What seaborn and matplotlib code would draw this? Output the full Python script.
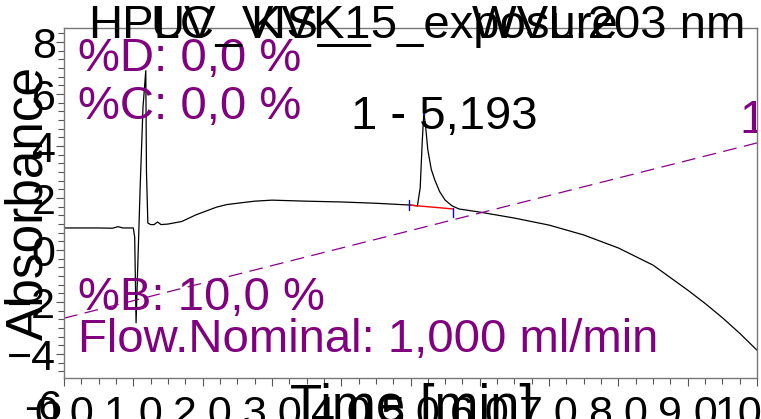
import numpy as np
import pandas as pd
import matplotlib
matplotlib.use("Agg")
import matplotlib.pyplot as plt
import matplotlib.transforms as mtransforms
from matplotlib.ticker import MultipleLocator
import seaborn as sns

sns.set_style("ticks")
plt.rcParams['font.family'] = ['Liberation Sans', 'DejaVu Sans']
plt.rcParams.update({"text.color": "black", "xtick.labelcolor": "black",
                     "ytick.labelcolor": "black"})

# chromatogram trace (time in min, absorbance)
time_min = [0.0, 0.5, 0.7, 0.78, 0.85, 1.0, 1.02, 1.04, 1.06, 1.10, 1.14, 1.18, 1.19, 1.21,
            1.25, 1.30, 1.35, 1.40, 1.50, 1.70, 1.90, 2.05, 2.20, 2.35, 2.50, 2.75, 3.0, 3.5,
            4.0, 4.5, 5.0, 5.10, 5.14, 5.17, 5.193, 5.22, 5.25, 5.30, 5.35, 5.42, 5.50, 5.60,
            5.70, 6.0, 6.5, 7.0, 7.5, 8.0, 8.5, 9.0, 9.25, 9.5, 9.75, 10.0]
absorb = [0.85, 0.85, 0.84, 0.90, 0.85, 0.85, 0.5, -2.8, -1.0, 2.5, 5.5, 6.9, 3.0, 1.04,
          0.98, 0.98, 1.08, 0.98, 1.00, 1.10, 1.35, 1.50, 1.65, 1.75, 1.80, 1.88, 1.92, 1.88,
          1.85, 1.80, 1.73, 1.70, 2.4, 4.2, 5.3, 4.7, 3.85, 3.1, 2.7, 2.25, 1.92, 1.70,
          1.58, 1.46, 1.23, 0.96, 0.58, 0.08, -0.58, -1.54, -2.05, -2.6, -3.2, -3.85]

# gradient %B line (drawn on absorbance scale)
grad_time = [0.0, 10.0]
grad_level = [-2.62, 4.12]

# integration baseline of peak 1
base_time = [4.98, 5.62]
base_level = [1.73, 1.58]
peak_rt = 5.193

x_ticks = np.arange(0, 11, 1)
x_labels = [f"{v},0" for v in x_ticks]
y_ticks = [-4, -2, 0, 2, 4, 6, 8]

df = pd.DataFrame({"t": time_min, "a": absorb})

fig = plt.figure(figsize=(7.61, 4.19), dpi=100)
ax = fig.add_axes([64 / 761, 41 / 419, 693 / 761, 350 / 419])

sns.lineplot(data=df, x="t", y="a", ax=ax, color="black", linewidth=0.9, sort=False,
             estimator=None)
ax.plot(grad_time, grad_level, color="#8b008b", linestyle=(0, (11, 6)), linewidth=0.9)
ax.plot(base_time, base_level, color="red", linewidth=1.0)
ax.plot([base_time[0], base_time[0]], [base_level[0] - 0.2, base_level[0] + 0.2], color="blue", lw=1)
ax.plot([base_time[1], base_time[1]], [base_level[1] - 0.3, base_level[1] + 0.05], color="blue", lw=1)
ax.plot([peak_rt, peak_rt], [5.2, 5.4], color="blue", lw=1)

ax.set_xlim(0, 10)
ax.set_ylim(-4.92, 8.54)
ax.set_xlabel("")
ax.set_ylabel("")
ax.set_xticks(x_ticks)
ax.set_xticklabels(x_labels)
ax.set_yticks(y_ticks)
ax.xaxis.set_minor_locator(MultipleLocator(0.25))
ax.yaxis.set_minor_locator(MultipleLocator(1 / 3))
ax.tick_params(axis="both", which="major", labelsize=31, length=6, width=0.8, color="#555555")
ax.tick_params(axis="x", which="major", pad=6)
ax.tick_params(axis="y", which="major", pad=0)
ax.tick_params(axis="both", which="minor", length=4, width=0.8, color="#555555")
for s in ax.spines.values():
    s.set_color("#777777")
    s.set_linewidth(1.0)

purple = "#800080"
fs = 34
ax.text(0.2, 8.2, "%D: 0,0 %", color=purple, fontsize=fs, va="top", ha="left")
ax.text(0.2, 6.35, "%C: 0,0 %", color=purple, fontsize=fs, va="top", ha="left")
ax.text(0.2, -1.0, "%B: 10,0 %", color=purple, fontsize=fs, va="top", ha="left")
ax.text(0.2, -2.6, "Flow.Nominal: 1,000 ml/min", color=purple, fontsize=fs, va="top", ha="left")
ax.text(9.75, 5.8, "100 %", color=purple, fontsize=fs, va="top", ha="left", clip_on=True)
ax.text(peak_rt + 0.3, 5.95, "1 - 5,193", color="black", fontsize=fs, va="top", ha="center")

# extra y label below the frame
ax.text(-0.003, -6.1, "-6", transform=mtransforms.blended_transform_factory(ax.transAxes, ax.transData),
        fontsize=31, ha="right", va="center", clip_on=False)

# overlapping header texts
fig.text(88 / 761, 1 - 38 / 419, "HPLC", fontsize=fs, ha="left", va="baseline")
fig.text(150 / 761, 1 - 38 / 419, "UV_VIS_1", fontsize=fs, ha="left", va="baseline")
fig.text(250 / 761, 1 - 38 / 419, "KVK_5_exposure", fontsize=fs, ha="left", va="baseline")
fig.text(745 / 761, 1 - 38 / 419, "WVL:203 nm", fontsize=fs, ha="right", va="baseline")

fig.text(412 / 761, 1 - 383 / 419, "Time [min]", fontsize=38, ha="center", va="top")
fig.text(4 / 761, 0.515, "Absorbance", fontsize=37, rotation=90, ha="left", va="center")

fig.savefig("out.png", dpi=100)
